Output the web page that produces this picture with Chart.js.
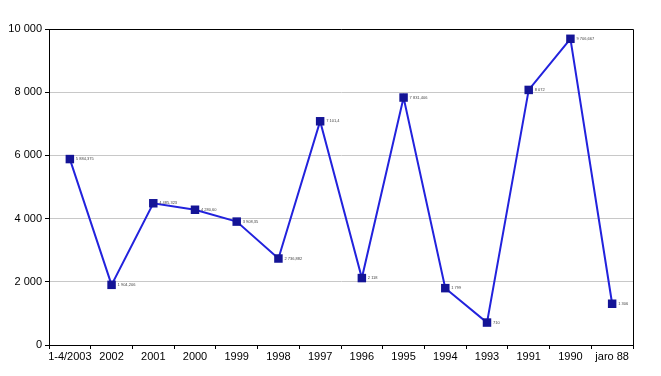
<!DOCTYPE html>
<html>
<head>
<meta charset="utf-8">
<script src="https://cdn.jsdelivr.net/npm/chart.js@4/dist/chart.umd.min.js"></script>
<style>
  html, body { margin: 0; padding: 0; background: #fff; }
  #wrap { width: 661px; height: 376px; }
</style>
</head>
<body>
<div id="wrap"><canvas id="chartYears"></canvas></div>
<script>
const years = ["1-4/2003", "2002", "2001", "2000", "1999", "1998", "1997", "1996", "1995", "1994", "1993", "1991", "1990", "jaro 88"];
const values = [5884, 1904, 4485, 4280, 3905, 2737, 7080, 2118, 7831, 1799, 710, 8072, 9690, 1306];
const pointLabels = ["5 884,375", "1 904,206", "4 485,323", "4 280,60", "3 908,35", "2 736,882", "7 101,4", "2 118", "7 831,406", "1 799", "710", "8 072", "9 706,667", "1 306"];

const spaced = (v) => v.toString().replace(/\B(?=(\d{3})+(?!\d))/g, " ");

// black frame round the plot + tiny value labels beside each marker
const frameAndLabels = {
  id: "frameAndLabels",
  afterDatasetsDraw(chart) {
    const { ctx, chartArea } = chart;
    ctx.save();
    ctx.strokeStyle = "#000";
    ctx.lineWidth = 1;
    ctx.beginPath();
    ctx.moveTo(chartArea.left, chartArea.top + 0.5);
    ctx.lineTo(chartArea.right + 0.5, chartArea.top + 0.5);
    ctx.lineTo(chartArea.right + 0.5, chartArea.bottom);
    ctx.stroke();

    ctx.fillStyle = "#444";
    ctx.font = "4px 'Liberation Sans', Arial, sans-serif";
    ctx.textBaseline = "middle";
    chart.getDatasetMeta(0).data.forEach((pt, i) => {
      ctx.fillText(pointLabels[i], pt.x + 6, pt.y);
    });
    ctx.restore();
  }
};

document.addEventListener("DOMContentLoaded", () => {
  new Chart(document.querySelector("#chartYears"), {
    type: "line",
    data: {
      labels: years,
      datasets: [
        {
          data: values,
          fill: false,
          borderColor: "#2222dd",
          borderWidth: 2,
          tension: 0,
          pointStyle: "rect",
          pointRadius: 6,
          pointBackgroundColor: "#141496",
          pointBorderColor: "#141496",
          pointBorderWidth: 0,
        },
      ],
    },
    options: {
      responsive: true,
      maintainAspectRatio: false,
      animation: false,
      layout: { padding: { top: 29, right: 28, bottom: 0, left: 0 } },
      plugins: {
        legend: { display: false },
        tooltip: { enabled: false },
      },
      scales: {
        x: {
          offset: true,
          grid: {
            offset: true,
            drawOnChartArea: false,
            tickLength: 4,
            tickColor: "#000",
          },
          border: { color: "#000", width: 1 },
          ticks: {
            color: "#000",
            font: { family: "'Liberation Sans', Arial, sans-serif", size: 11 },
            padding: 1,
            maxRotation: 0,
            autoSkip: false,
          },
          afterFit(scale) { scale.height = 31; },
        },
        y: {
          min: 0,
          max: 10000,
          ticks: {
            stepSize: 2000,
            color: "#000",
            font: { family: "'Liberation Sans', Arial, sans-serif", size: 11 },
            padding: 3,
            callback: (v) => spaced(v),
          },
          grid: {
            color: "#c8c8c8",
            tickColor: "#000",
            tickLength: 4,
          },
          border: { color: "#000", width: 1 },
          afterFit(scale) { scale.width = 49; },
        },
      },
    },
    plugins: [frameAndLabels],
  });
});
</script>
</body>
</html>
